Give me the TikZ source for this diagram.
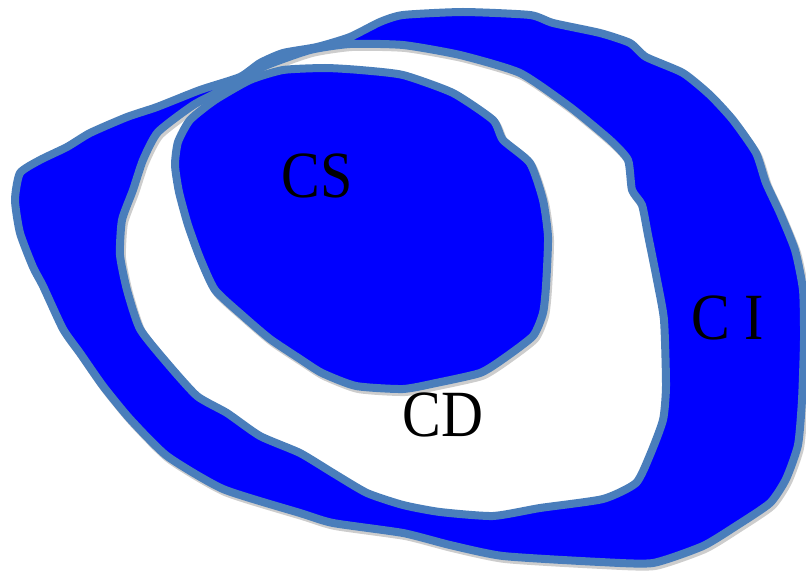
\documentclass[tikz,border=0pt]{standalone}
\usepackage{fontspec}
\setmainfont{Liberation Serif}
\definecolor{zonefill}{RGB}{0, 0, 255}
\definecolor{zoneedge}{RGB}{74, 126, 187}
\definecolor{zoneshade}{RGB}{205, 205, 205}

\begin{document}
\begin{tikzpicture}[
    x=1pt, y=-1pt,
    zone/.style  = {fill=zonefill, draw=zoneedge, line width=8pt, line join=round,
                    preaction={draw=zoneshade, line width=8pt, line join=round,
                               transform canvas={shift={(2pt,-3pt)}}}},
    lbl/.style   = {font=\fontsize{66}{70}\selectfont, text=black, inner sep=0pt, xscale=0.88},
  ]
    \useasboundingbox (0,0) rectangle (806,572);

    % --- outer ring (C I), hole cut out ---
    \path[zone, even odd rule]
      plot[smooth cycle, tension=0.35] coordinates {
        (15,200) (20,173) (40,160) (67,147) (90,133) (127,117) (157,107) (200,90)
        (240,77) (260,63) (283,53) (317,47) (350,37) (380,22) (403,15) (463,12)
        (530,15) (553,23) (600,33) (630,43) (646,57) (683,73) (710,95) (733,120)
        (756,153) (766,183) (780,213) (795,250) (803,290) (804,340) (802,400)
        (798,445) (786,479) (770,503) (736,526) (703,546) (653,563) (600,562)
        (503,556) (450,545) (403,533) (333,523) (300,513) (223,489) (167,456)
        (130,419) (103,386) (80,353) (63,329) (43,286) (33,267) (20,233)}
      plot[smooth cycle, tension=0.35] coordinates {
        (310,50) (350,44) (403,45) (460,55) (520,73) (570,107) (610,140)
        (628,160) (632,190) (642,205) (648,235) (657,280) (664,320) (666,386)
        (663,420) (650,455) (636,483) (603,499) (540,508) (493,516) (440,512)
        (403,505) (367,493) (333,473) (300,453) (260,436) (227,413) (197,396)
        (167,363) (140,329) (127,290) (120,255) (122,220) (133,190) (143,160)
        (158,132) (195,104) (235,84) (265,66)};

    % --- inner blob (CS) ---
    \path[zone]
      plot[smooth cycle, tension=0.35] coordinates {
        (325,68) (283,70) (250,80) (215,100) (190,120) (178,142) (175,165)
        (179,192) (188,225) (200,258) (215,290) (243,316) (270,339) (300,359)
        (322,373) (356,386) (403,389) (436,383) (480,373) (503,359) (533,336)
        (543,313) (546,286) (548,237) (543,200) (530,163) (503,140) (493,120)
        (453,93) (403,75) (360,70)};

    % --- labels ---
    \node[lbl] (cs) at (317,176) {CS};
    \node[lbl] (ci) at (728,318) {C I};
    \node[lbl] (cd) at (443,415) {CD};

  \end{tikzpicture}
\end{document}
